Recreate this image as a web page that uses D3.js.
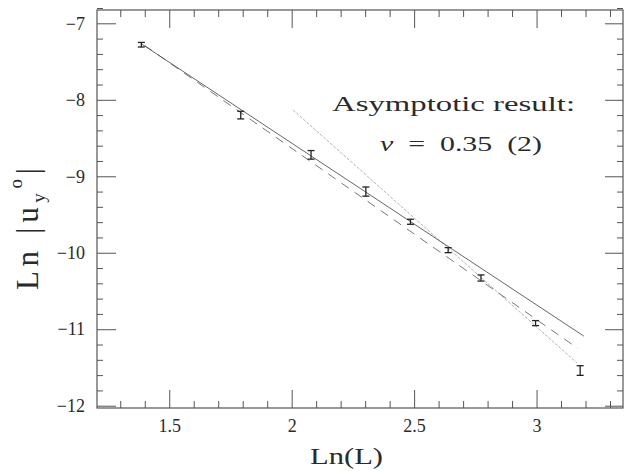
<!DOCTYPE html>
<html>
<head>
<meta charset="utf-8">
<script src="https://cdn.jsdelivr.net/npm/d3@7"></script>
<style>
  body { margin: 0; background: #fff; }
  svg { display: block; }
  text { font-family: "Liberation Serif", "DejaVu Serif", serif; fill: #2a2a2a; }
</style>
</head>
<body>
<svg></svg>
<script>
var width = 626;
var height = 471;

// data: ln L (L = 4..24) against ln |u_y^o|
var lnL = [1.386, 1.792, 2.079, 2.303, 2.485, 2.639, 2.773, 2.996, 3.178];
var lnU = [-7.28, -8.20, -8.72, -9.20, -9.595, -9.966, -10.33, -10.92, -11.54];
var errU = [0.03, 0.05, 0.056, 0.06, 0.033, 0.033, 0.04, 0.033, 0.063];

// fitted lines, end points
var fitSolid = [[1.387, -7.27], [3.193, -11.09]];
var fitDashed = [[1.40, -7.29], [3.168, -11.25]];
var fitSteep = [[2.006, -8.135], [3.165, -11.44]];

var xMajor = [1.5, 2, 2.5, 3];
var xMinor = [1.3, 1.4, 1.6, 1.7, 1.8, 1.9, 2.1, 2.2, 2.3, 2.4, 2.6, 2.7, 2.8, 2.9, 3.1, 3.2, 3.3];
var yMajor = [-12, -11, -10, -9, -8, -7];
var yMinor = [-11.8, -11.6, -11.4, -11.2, -10.8, -10.6, -10.4, -10.2, -9.8, -9.6, -9.4, -9.2,
              -8.8, -8.6, -8.4, -8.2, -7.8, -7.6, -7.4, -7.2, -6.8];

var svg = d3.select("svg")
            .attr("width", width)
            .attr("height", height);

var plotL = 97, plotR = 623, plotT = 10, plotB = 408;

var x = d3.scaleLinear().domain([1.205, 3.353]).range([plotL, plotR]);
var y = d3.scaleLinear().domain([-12.03, -6.826]).range([plotB, plotT]);

var fmtMinus = function(d) { return String(d).replace("-", "\u2212"); };

/* frame */
svg.append("rect")
    .attr("x", plotL).attr("y", plotT)
    .attr("width", plotR - plotL).attr("height", plotB - plotT)
    .attr("fill", "none").attr("stroke", "#555").attr("stroke-width", 1.2);

function addAxis(axis, tx, ty, vals, size, labels) {
  var g = svg.append("g")
      .attr("transform", "translate(" + tx + "," + ty + ")")
      .call(axis.tickValues(vals).tickSize(size).tickSizeOuter(0)
                .tickFormat(labels ? fmtMinus : ""));
  g.select(".domain").remove();
  g.selectAll(".tick line").attr("stroke", "#555").attr("stroke-width", 1);
  g.selectAll("text").attr("font-family", "Liberation Serif, serif").attr("fill", "#333");
  return g;
}

// bottom
var gb = addAxis(d3.axisBottom(x), 0, plotB, xMajor, -18, true);
gb.selectAll("text").attr("font-size", 18).attr("y", 11).attr("dy", "0.71em");
addAxis(d3.axisBottom(x), 0, plotB, xMinor, -7, false);
// top
addAxis(d3.axisTop(x), 0, plotT, xMajor, -18, false);
addAxis(d3.axisTop(x), 0, plotT, xMinor, -7, false);
// left
var gl = addAxis(d3.axisLeft(y), plotL, 0, yMajor, -19, true);
gl.selectAll("text").attr("font-size", 18).attr("x", -12);
addAxis(d3.axisLeft(y), plotL, 0, yMinor, -6, false);
// right
addAxis(d3.axisRight(y), plotR, 0, yMajor, -18, false);
addAxis(d3.axisRight(y), plotR, 0, yMinor, -6, false);

/* fit lines */
var line = d3.line()
    .x(function(d) { return x(d[0]); })
    .y(function(d) { return y(d[1]); });

svg.append("path").datum(fitSteep)
    .attr("d", line).attr("fill", "none")
    .attr("stroke", "#aaa").attr("stroke-width", 0.9).attr("stroke-dasharray", "3,1.5");
svg.append("path").datum(fitDashed)
    .attr("d", line).attr("fill", "none")
    .attr("stroke", "#777").attr("stroke-width", 1).attr("stroke-dasharray", "9,7");
svg.append("path").datum(fitSolid)
    .attr("d", line).attr("fill", "none")
    .attr("stroke", "#555").attr("stroke-width", 0.9);

/* error bars */
var pts = lnL.map(function(v, i) { return { x: v, y: lnU[i], e: errU[i] }; });
var bars = svg.append("g").attr("stroke", "#222").attr("stroke-width", 1.3);
var cap = 3.5;
bars.selectAll("g").data(pts).enter().append("g")
  .each(function(d) {
    var g = d3.select(this);
    var cx = x(d.x), y0 = y(d.y - d.e), y1 = y(d.y + d.e);
    g.append("line").attr("x1", cx).attr("x2", cx).attr("y1", y0).attr("y2", y1);
    g.append("line").attr("x1", cx - cap).attr("x2", cx + cap).attr("y1", y0).attr("y2", y0);
    g.append("line").attr("x1", cx - cap).attr("x2", cx + cap).attr("y1", y1).attr("y2", y1);
  });

/* annotation */
svg.append("text")
    .attr("x", 332).attr("y", 111)
    .attr("font-size", 22)
    .attr("textLength", 243).attr("lengthAdjust", "spacingAndGlyphs")
    .text("Asymptotic result:");
var nu = svg.append("text")
    .attr("x", 380).attr("y", 151)
    .attr("font-size", 22)
    .attr("textLength", 162).attr("lengthAdjust", "spacingAndGlyphs")
    .attr("xml:space", "preserve")
    .style("white-space", "pre");
nu.append("tspan").attr("font-style", "italic").text("\u03bd");
nu.append("tspan").text("  =  0.35  (2)");

/* axis titles */
svg.append("text")
    .attr("x", 310).attr("y", 464)
    .attr("font-size", 23)
    .attr("textLength", 73).attr("lengthAdjust", "spacingAndGlyphs")
    .text("Ln(L)");

var yt = svg.append("text")
    .attr("transform", "translate(38,290) rotate(-90)")
    .attr("font-size", 31)
    .attr("textLength", 122).attr("lengthAdjust", "spacing");
yt.append("tspan").text("Ln |u");
yt.append("tspan").attr("font-size", 19).attr("dy", 7).text("y");
yt.append("tspan").attr("font-size", 19).attr("dy", -23).text("o");
yt.append("tspan").attr("dy", 16).text("|");
</script>
</body>
</html>
